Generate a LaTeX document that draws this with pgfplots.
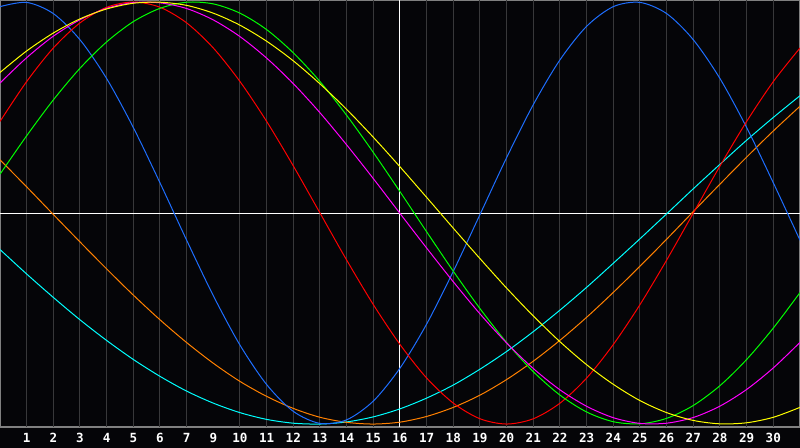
\documentclass[border=0pt]{standalone}
\usepackage{pgfplots}
\pgfplotsset{compat=1.18}
\usepackage{fontspec}
\newfontfamily\labfont{DejaVu Sans Mono}

\definecolor{bgc}{RGB}{5,5,8}
\definecolor{gridc}{RGB}{56,56,58}
\definecolor{framec}{RGB}{128,128,128}
\definecolor{cblue}{RGB}{30,110,255}
\definecolor{cred}{RGB}{255,0,0}
\definecolor{cgreen}{RGB}{0,255,0}
\definecolor{cmag}{RGB}{255,0,255}
\definecolor{cyel}{RGB}{255,255,0}
\definecolor{ccyan}{RGB}{0,255,255}
\definecolor{corange}{RGB}{255,128,0}

% one series per cycle, day 0..30
\pgfplotstableread{
d blue red green mag yel cyan orange
0 97.8 43.4 18.4 61.6 66.6 -17.3 25.2
1 99.8 62.3 36.6 73.6 76.8 -28.9 12.4
2 94.5 78.2 53.6 83.8 85.3 -40.0 -0.7
3 82.1 90.1 68.6 91.6 92.0 -50.6 -13.7
4 63.7 97.5 81.1 97.0 96.7 -60.4 -26.5
5 40.5 100.0 90.7 99.7 99.4 -69.4 -38.9
6 14.3 97.5 97.0 99.6 99.9 -77.4 -50.6
7 -12.9 90.1 99.9 96.9 98.4 -84.4 -61.4
8 -39.2 78.2 99.1 91.5 94.7 -90.1 -71.2
9 -62.6 62.3 94.7 83.6 89.0 -94.6 -79.8
10 -81.3 43.4 86.9 73.4 81.4 -97.8 -86.9
11 -94.0 22.3 75.9 61.3 72.1 -99.6 -92.6
12 -99.7 0.0 62.3 47.5 61.2 -100.0 -96.8
13 -98.0 -22.3 46.3 32.3 49.1 -99.0 -99.2
14 -89.1 -43.4 28.7 16.3 35.9 -96.6 -100.0
15 -73.5 -62.3 10.1 -0.2 21.9 -92.8 -99.1
16 -52.6 -78.2 -8.9 -16.6 7.4 -87.7 -96.4
17 -27.6 -90.1 -27.6 -32.6 -7.2 -81.5 -92.1
18 -0.7 -97.5 -45.3 -47.8 -21.6 -74.0 -86.3
19 26.3 -100.0 -61.4 -61.6 -35.6 -65.6 -78.9
20 51.4 -97.5 -75.2 -73.7 -48.8 -56.2 -70.2
21 72.6 -90.1 -86.3 -83.8 -61.0 -46.0 -60.3
22 88.5 -78.2 -94.3 -91.6 -71.9 -35.2 -49.4
23 97.8 -62.3 -98.9 -97.0 -81.2 -23.8 -37.6
24 99.8 -43.4 -99.9 -99.7 -88.9 -12.2 -25.2
25 94.5 -22.3 -97.3 -99.6 -94.6 -0.4 -12.4
26 82.1 0.0 -91.2 -96.9 -98.3 11.5 0.7
27 63.7 22.3 -81.8 -91.5 -99.9 23.1 13.7
28 40.5 43.4 -69.4 -83.6 -99.4 34.5 26.5
29 14.3 62.3 -54.5 -73.4 -96.8 45.3 38.9
30 -12.9 78.2 -37.7 -61.3 -92.1 55.6 50.6
}\cycles

\begin{document}
\begin{tikzpicture}
\fill[bgc] (0,0) rectangle (400pt,224pt);
\begin{axis}[
    at={(0pt,10.5pt)}, anchor=south west,
    width=400pt, height=213.5pt, scale only axis,
    xmin=0, xmax=30, ymin=-101.4, ymax=100.95,
    axis line style={framec, line width=0.6pt},
    ytick=\empty,
    xtick={1,...,29},
    xticklabels={1,2,3,4,5,6,7,9,10,11,12,13,14,15,16,17,18,19,20,21,22,23,24,25,26,27,28,29,30},
    major tick length=0pt,
    xticklabel style={anchor=center, yshift=-5.6pt, text=white,
        font=\labfont\bfseries\fontsize{6.3}{8}\selectfont},
    extra x ticks={1,2,3,4,5,6,7,9,10,11,12,13,14,16,17,18,19,20,21,22,23,24,25,26,27,28,29},
    extra x tick labels={},
    extra x tick style={grid=major, major grid style={gridc, line width=0.5pt}},
    every axis plot/.append style={line width=0.5pt, no markers, smooth},
]
\draw[white, line width=0.5pt] (axis cs:15,-101.4) -- (axis cs:15,100.95);
\draw[white, line width=0.5pt] (axis cs:0,0) -- (axis cs:30,0);
\addplot[ccyan] table[x=d, y=cyan] {\cycles};
\addplot[corange] table[x=d, y=orange] {\cycles};
\addplot[cblue] table[x=d, y=blue] {\cycles};
\addplot[cred] table[x=d, y=red] {\cycles};
\addplot[cgreen] table[x=d, y=green] {\cycles};
\addplot[cmag] table[x=d, y=mag] {\cycles};
\addplot[cyel] table[x=d, y=yel] {\cycles};
\end{axis}
\pgfresetboundingbox
\useasboundingbox (0,0) rectangle (400pt,224pt);
\end{tikzpicture}
\end{document}
